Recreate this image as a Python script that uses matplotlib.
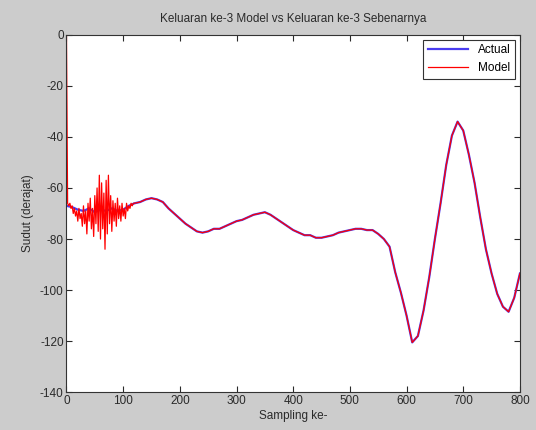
import matplotlib.pyplot as plt
import numpy as np

plt.rcParams['font.family'] = ['Liberation Sans', 'DejaVu Sans']
plt.rcParams['axes.unicode_minus'] = False

# actual output, every 10 samples
sample_actual = list(range(0, 801, 10))
actual = [-67, -67.5, -68.5, -69, -68, -69.5, -68.5, -69, -68, -69,
          -68.5, -67, -66, -65.5, -64.5, -64, -64.5, -65.5, -68, -70,
          -72, -74, -75.5, -77, -77.5, -77, -76, -76, -75, -74,
          -73, -72.5, -71.5, -70.5, -70, -69.5, -70.5, -72, -73.5, -75,
          -76.5, -77.5, -78.5, -78.5, -79.5, -79.5, -79, -78.5, -77.5, -77,
          -76.5, -76, -76, -76.5, -76.5, -78, -80, -83, -93, -101,
          -110, -120.5, -118, -108, -95, -80, -66, -51, -39.5, -34,
          -37.5, -47, -58, -71.5, -84, -93.5, -101.5, -106.5, -108.5, -103,
          -93.5]

# model output at the start (noisy transient), every 2 samples
sample_model_head = list(range(0, 121, 2))
model_head = [0, -66, -67, -66, -68, -67, -70, -68, -71, -69,
              -73, -68, -72, -70, -75, -67, -74, -69, -78, -66,
              -73, -64, -76, -68, -79, -63, -74, -60, -77, -55,
              -80, -58, -76, -62, -84, -57, -78, -55, -74, -63,
              -77, -65, -73, -66, -75, -64, -72, -67, -73, -66,
              -71, -68, -72, -66, -69, -67, -68, -66, -67, -66,
              -66]

# after the transient the model follows the actual output
sample_model = sample_model_head + sample_actual[13:]
model = model_head + actual[13:]

fig = plt.figure(figsize=(5.36, 4.30), dpi=100, facecolor='#cccccc')
ax = fig.add_axes([0.124, 0.088, 0.846, 0.831])

ax.plot(sample_actual, actual, color='#4a3cf0', linewidth=1.6, label='Actual')
ax.plot(sample_model, model, color='red', linewidth=0.9, label='Model')

ax.set_xlim(0, 800)
ax.set_ylim(-140, 0)
ax.set_xticks(np.arange(0, 801, 100))
ax.set_yticks(np.arange(-140, 1, 20))
ax.tick_params(direction='in', top=True, right=True, length=4,
               labelsize=8.5, colors='#2a2a2a', pad=2)
for s in ax.spines.values():
    s.set_color('#333333')
    s.set_linewidth(0.8)

ax.set_title('Keluaran ke-3 Model vs Keluaran ke-3 Sebenarnya',
             fontsize=8.5, color='#2a2a2a', pad=9)
ax.set_xlabel('Sampling ke-', fontsize=8.5, color='#2a2a2a', labelpad=2)
ax.set_ylabel('Sudut (derajat)', fontsize=8.5, color='#2a2a2a', labelpad=4)

leg = ax.legend(loc='upper right', fontsize=8.5, fancybox=False,
                edgecolor='#333333', framealpha=1, handlelength=3.4,
                borderaxespad=0.4)
leg.get_frame().set_linewidth(0.8)

fig.savefig('out.png', dpi=100, facecolor=fig.get_facecolor())
